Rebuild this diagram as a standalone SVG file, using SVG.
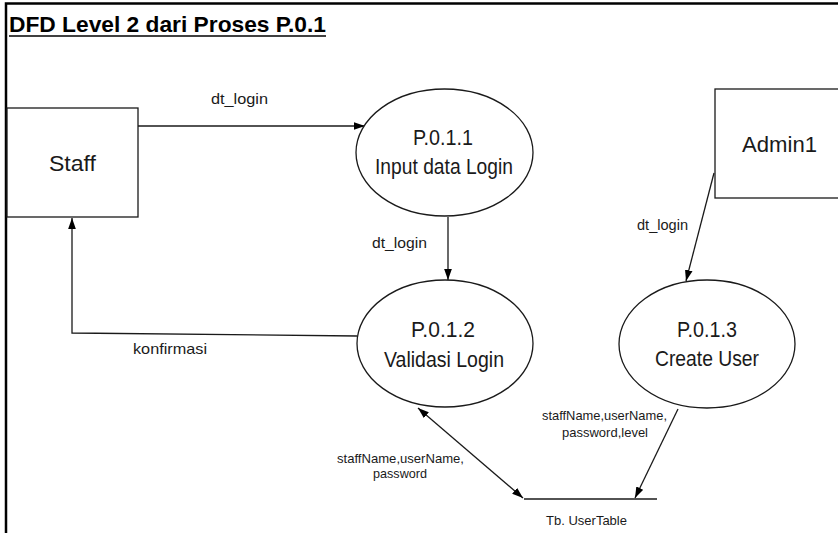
<svg xmlns="http://www.w3.org/2000/svg" width="838" height="533" viewBox="0 0 838 533">
<style>
.bg{fill:#ffffff}
.frame{stroke:#000;stroke-width:2.5;fill:none}
.node{fill:#fff;stroke:#1a1a1a;stroke-width:1.3}
.conn{fill:none;stroke:#1a1a1a;stroke-width:1.3}
.store{fill:none;stroke:#1a1a1a;stroke-width:1.6}
text{font-family:"Liberation Sans",Arial,sans-serif;fill:#1a1a1a}
.title{font-size:21.5px;font-weight:bold;fill:#000}
.big{font-size:22px}
.lbl{font-size:15px}
.sm{font-size:13.5px}
</style>
<defs>
<marker id="arr" markerUnits="userSpaceOnUse" markerWidth="11" markerHeight="8" refX="10" refY="3.5" orient="auto-start-reverse" viewBox="0 0 10 7">
<path d="M0,0 L10,3.5 L0,7 z" fill="#000"/>
</marker>
</defs>
<rect class="bg" x="0" y="0" width="838" height="533"/>
<g id="frame">
<path class="frame" d="M6,533 L6,3.5 L838,3.5"/>
<text class="title" x="9" y="32" textLength="317" lengthAdjust="spacingAndGlyphs">DFD Level 2 dari Proses P.0.1</text>
<line x1="9" y1="36" x2="326" y2="36" stroke="#000" stroke-width="1.6"/>
</g>
<g id="connectors">
<path class="conn" d="M138,126 L365,126" marker-end="url(#arr)"/>
<path class="conn" d="M448,217 L448,280" marker-end="url(#arr)"/>
<path class="conn" d="M357,336 L72,333 L72,218" marker-end="url(#arr)"/>
<path class="conn" d="M714,173 L686,281" marker-end="url(#arr)"/>
<path class="conn" d="M678,409 L635,498" marker-end="url(#arr)"/>
<path class="conn" d="M418,408 L523,498" marker-start="url(#arr)" marker-end="url(#arr)"/>
<text class="lbl" x="211" y="104" textLength="57" lengthAdjust="spacingAndGlyphs">dt_login</text>
<text class="lbl" x="372" y="248" textLength="55" lengthAdjust="spacingAndGlyphs">dt_login</text>
<text class="lbl" x="637" y="230" textLength="51" lengthAdjust="spacingAndGlyphs">dt_login</text>
<text class="lbl" x="133" y="354" textLength="74" lengthAdjust="spacingAndGlyphs">konfirmasi</text>
<text class="sm" x="337" y="463" textLength="127" lengthAdjust="spacingAndGlyphs">staffName,userName,</text>
<text class="sm" x="373" y="478" textLength="54" lengthAdjust="spacingAndGlyphs">password</text>
<text class="sm" x="542" y="420" textLength="125" lengthAdjust="spacingAndGlyphs">staffName,userName,</text>
<text class="sm" x="562" y="437" textLength="86" lengthAdjust="spacingAndGlyphs">password,level</text>
</g>
<g id="staff">
<rect class="node" x="7" y="108" width="131" height="109"/>
<text class="big" x="49" y="171" textLength="47" lengthAdjust="spacingAndGlyphs">Staff</text>
</g>
<g id="admin1">
<rect class="node" x="715" y="89" width="140" height="109"/>
<text class="big" x="742" y="152" textLength="75" lengthAdjust="spacingAndGlyphs">Admin1</text>
</g>
<g id="p011">
<ellipse class="node" cx="444.5" cy="152.5" rx="88.5" ry="63.5"/>
<text class="big" x="413" y="145" textLength="60" lengthAdjust="spacingAndGlyphs">P.0.1.1</text>
<text class="big" x="375" y="174" textLength="138" lengthAdjust="spacingAndGlyphs">Input data Login</text>
</g>
<g id="p012">
<ellipse class="node" cx="445" cy="343.5" rx="88" ry="63.5"/>
<text class="big" x="411" y="337" textLength="64" lengthAdjust="spacingAndGlyphs">P.0.1.2</text>
<text class="big" x="384" y="367" textLength="120" lengthAdjust="spacingAndGlyphs">Validasi Login</text>
</g>
<g id="p013">
<ellipse class="node" cx="707" cy="344" rx="88" ry="64"/>
<text class="big" x="677" y="337" textLength="60" lengthAdjust="spacingAndGlyphs">P.0.1.3</text>
<text class="big" x="655" y="366" textLength="104" lengthAdjust="spacingAndGlyphs">Create User</text>
</g>
<g id="usertable">
<path class="store" d="M524,499 L657,499"/>
<text class="sm" x="546" y="525" textLength="81" lengthAdjust="spacingAndGlyphs">Tb. UserTable</text>
</g>
</svg>
